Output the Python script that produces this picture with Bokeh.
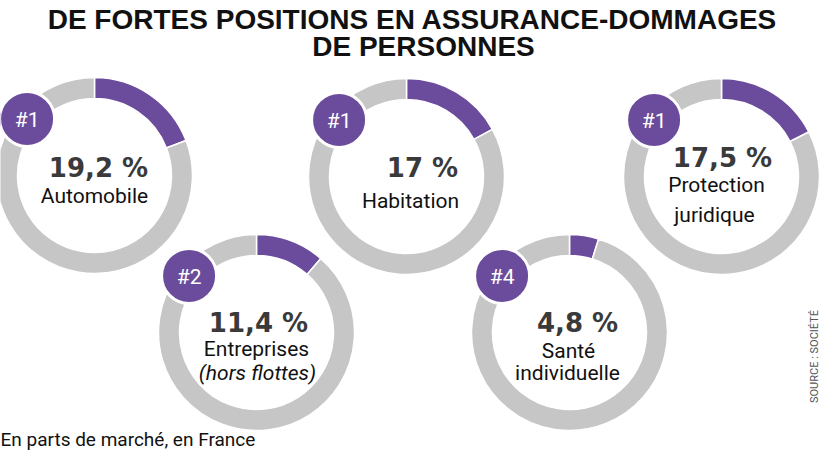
import math
from bokeh.plotting import figure
from bokeh.models import ColumnDataSource, Range1d
from bokeh.embed import file_html
from bokeh.resources import INLINE
from bokeh.core.properties import value

# ---------------- data ----------------
categories = ["Automobile", "Habitation", "Protection juridique",
              "Entreprises (hors flottes)", "Santé individuelle"]
label_lines = [["Automobile"], ["Habitation"], ["Protection", "juridique"],
               ["Entreprises", "(hors flottes)"], ["Santé", "individuelle"]]
italic_lines = [[False], [False], [False, False], [False, True], [False, False]]
shares = [19.2, 17.0, 17.5, 11.4, 4.8]      # parts de marché, %
ranks = [1, 1, 1, 2, 4]

title_lines = ["DE FORTES POSITIONS EN ASSURANCE-DOMMAGES", "DE PERSONNES"]
footnote = "En parts de marché, en France"
source_txt = "SOURCE : SOCIÉTÉ"

# ---------------- layout (page pixel coordinates) ----------------
M = 8
W, H = 820, 450


def X(px):
    return px - M


def Y(py):
    return H - (py - M)


centers = [(102, 183), (414, 184), (729, 184), (264, 340), (577, 340)]
pct_off = [(4, -8), (16, -9), (1, -19), (2, -10), (8, -10)]
label_off = [[(0, 20)], [(4, 24)], [(-5, 8), (-7, 38)], [(0, 16), (1, 40)], [(-1, 18), (-2, 40)]]
R_OUT, R_IN = 98, 77
BADGE_ANG = math.radians(140)
BADGE_DIST = 88
BADGE_R = 27.5

PURPLE = "#6b4c9c"
GREY = "#c6c6c6"
PCT_COLOR = "#3a3a3a"


def fmt(v):
    return f"{v:g}".replace(".", ",") + " %"


p = figure(width=W, height=H, x_range=Range1d(0, W), y_range=Range1d(0, H),
           output_backend="svg", toolbar_location=None, min_border=0,
           x_axis_type=None, y_axis_type=None)
p.grid.visible = False
p.outline_line_color = None
p.background_fill_color = "white"
p.border_fill_color = "white"

# wedges
wx, wy, ws, we, wc = [], [], [], [], []
for (cx, cy), v in zip(centers, shares):
    theta = 2 * math.pi * v / 100.0
    top = math.pi / 2
    wx.append(X(cx)); wy.append(Y(cy)); ws.append(top - theta); we.append(top); wc.append(PURPLE)
    wx.append(X(cx)); wy.append(Y(cy)); ws.append(top); we.append(top - theta + 2 * math.pi); wc.append(GREY)

wsrc = ColumnDataSource(dict(x=wx, y=wy, start=ws, end=we, color=wc))
p.annular_wedge(x="x", y="y", inner_radius=R_IN, outer_radius=R_OUT,
                inner_radius_units="screen", outer_radius_units="screen",
                start_angle="start", end_angle="end", direction="anticlock",
                fill_color="color", line_color="white", line_width=1.5, source=wsrc)

# badges
bx = [X(cx) + BADGE_DIST * math.cos(BADGE_ANG) for cx, cy in centers]
by = [Y(cy) + BADGE_DIST * math.sin(BADGE_ANG) for cx, cy in centers]
bsrc = ColumnDataSource(dict(x=bx, y=by, t=[f"#{r}" for r in ranks]))
p.circle(x="x", y="y", radius=BADGE_R, radius_units="screen", fill_color=PURPLE,
         line_color="white", line_width=3, source=bsrc)
p.text(x="x", y="y", text="t", source=bsrc, text_font=value("Roboto"), text_font_size="21px",
       text_color="white", text_align="center", text_baseline="middle", y_offset=1)

# percentages
psrc = ColumnDataSource(dict(
    x=[X(cx + dx) for (cx, cy), (dx, dy) in zip(centers, pct_off)],
    y=[Y(cy + dy) for (cx, cy), (dx, dy) in zip(centers, pct_off)],
    t=[fmt(v) for v in shares]))
p.text(x="x", y="y", text="t", source=psrc, text_font=value("DejaVu Sans"),
       text_font_size="26px", text_font_style="bold", text_color=PCT_COLOR,
       text_align="center", text_baseline="alphabetic")

# category labels
nx, ny, nt, ix, iy, it = [], [], [], [], [], []
for (cx, cy), lines, flags, offs in zip(centers, label_lines, italic_lines, label_off):
    for line, it_flag, (dx, dy) in zip(lines, flags, offs):
        if it_flag:
            ix.append(X(cx + dx)); iy.append(Y(cy + dy)); it.append(line)
        else:
            nx.append(X(cx + dx)); ny.append(Y(cy + dy)); nt.append(line)
p.text(x=nx, y=ny, text=nt, text_font=value("Roboto"), text_font_size="21px",
       text_color="#111111", text_align="center", text_baseline="alphabetic")
p.text(x=ix, y=iy, text=it, text_font=value("Roboto"), text_font_size="21px",
       text_font_style="italic", text_color="#111111", text_align="center",
       text_baseline="alphabetic")

# title
p.text(x=[X(420), X(431)], y=[Y(27), Y(54)], text=title_lines, text_font=value("Liberation Sans"),
       text_font_size="28px", text_font_style="bold", text_color="#111111",
       text_align="center", text_baseline="alphabetic")

# footnote
p.text(x=[X(8)], y=[Y(447)], text=[footnote], text_font=value("Roboto"), text_font_size="19px",
       text_color="#111111", text_align="left", text_baseline="alphabetic")

# source (vertical)
p.text(x=[X(822)], y=[Y(364)], text=[source_txt], text_font=value("Roboto"), text_font_size="11px",
       text_color="#555555", text_align="center", text_baseline="middle", angle=math.pi / 2)

open("out.html", "w").write(file_html(p, INLINE))
